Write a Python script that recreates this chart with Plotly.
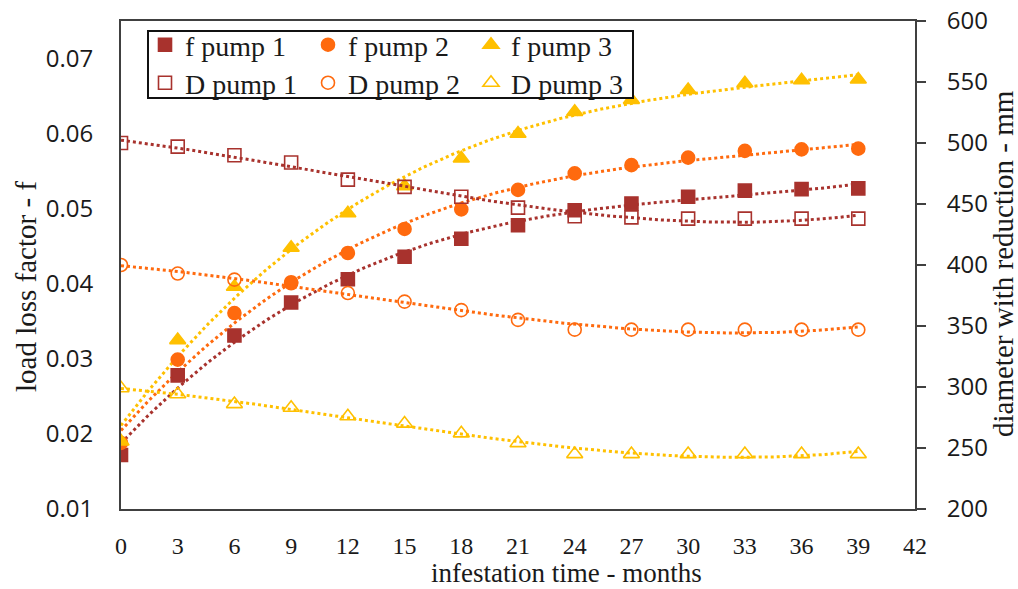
import numpy as np
import plotly.graph_objects as go

# infestation time (months)
months = [0, 3, 6, 9, 12, 15, 18, 21, 24, 27, 30, 33, 36, 39]

# load loss factor f (left axis)
f_pump1 = [0.0172, 0.0278, 0.0331, 0.0375, 0.0406, 0.0436, 0.0460, 0.0478,
           0.0498, 0.0507, 0.0516, 0.0524, 0.0526, 0.0527]
f_pump2 = [0.0188, 0.0299, 0.0361, 0.0402, 0.0441, 0.0473, 0.0499, 0.0525,
           0.0547, 0.0558, 0.0568, 0.0577, 0.0579, 0.0580]
f_pump3 = [0.0190, 0.0325, 0.0396, 0.0448, 0.0494, 0.0530, 0.0567, 0.0600,
           0.0629, 0.0645, 0.0658, 0.0667, 0.0671, 0.0672]

# diameter with reduction, mm (right axis)
d_pump1 = [500, 497, 490, 484, 470, 464, 456, 447, 440, 439, 438, 438, 438, 438]
d_pump2 = [400, 393, 388, 385, 377, 370, 363, 355, 347, 347, 347, 347, 347, 347]
d_pump3 = [299, 294, 286, 283, 276, 270, 262, 254, 245, 245, 245, 245, 245, 245]

RED = "#A8322D"
ORANGE = "#FF6A0E"
GOLD = "#FFC000"

W, H = 1018, 589
L, R, T, B = 121, 103, 21, 80
PW, PH = W - L - R, H - T - B

def px(xp):
    return (xp - L) / PW

def py(yp):
    return (H - B - yp) / PH

series = [
    ("f pump 1", f_pump1, "y", "square", RED, "legend"),
    ("f pump 2", f_pump2, "y", "circle", ORANGE, "legend"),
    ("f pump 3", f_pump3, "y", "triangle-up", GOLD, "legend"),
    ("D pump 1", d_pump1, "y2", "square-open", RED, "legend2"),
    ("D pump 2", d_pump2, "y2", "circle-open", ORANGE, "legend2"),
    ("D pump 3", d_pump3, "y2", "triangle-up-open", GOLD, "legend2"),
]

fig = go.Figure()

# polynomial trend lines (dotted)
xs = np.linspace(months[0], months[-1], 200)
for name, vals, yax, sym, col, lg in series:
    coef = np.polyfit(months, vals, 3)
    fig.add_trace(go.Scatter(
        x=xs, y=np.polyval(coef, xs), yaxis=yax, mode="lines",
        line=dict(color=col, width=3, dash="dot"),
        showlegend=False, hoverinfo="skip"))

# measured points
for name, vals, yax, sym, col, lg in series:
    fig.add_trace(go.Scatter(
        x=months, y=vals, yaxis=yax, mode="markers", name=name, legend=lg,
        marker=dict(symbol=sym, size=13 if "triangle" not in sym else 14,
                    color=col, line=dict(color=col, width=1.6))))

serif = "Liberation Serif"
sans = "Open Sans"
axis_col = "#404040"
txt_col = "#1a1a1a"

legend_common = dict(
    orientation="h", xanchor="left", yanchor="middle",
    entrywidth=118, entrywidthmode="pixels",
    bgcolor="rgba(0,0,0,0)", borderwidth=0,
    font=dict(family=serif, size=28, color=txt_col),
    itemclick=False, itemdoubleclick=False,
)

fig.update_layout(
    width=W, height=H,
    margin=dict(l=L, r=R, t=T, b=B, autoexpand=False),
    paper_bgcolor="white", plot_bgcolor="white",
    showlegend=True,
    legend=dict(x=px(145), y=py(45), **legend_common),
    legend2=dict(x=px(145), y=py(83), **legend_common),
    xaxis=dict(
        range=[0, 42], tick0=0, dtick=3, showgrid=False, zeroline=False,
        showline=True, linecolor=axis_col, linewidth=2, mirror=True,
        ticks="", ticklabelstandoff=14, automargin=False,
        tickfont=dict(family=serif, size=24, color=txt_col)),
    yaxis=dict(
        range=[0.01, 0.075], tick0=0.01, dtick=0.01, tickformat=".2f",
        showgrid=False, zeroline=False,
        showline=True, linecolor=axis_col, linewidth=2,
        ticks="", ticklabelstandoff=21, automargin=False,
        tickfont=dict(family=sans, size=24, color=txt_col)),
    yaxis2=dict(
        range=[200, 600], tick0=200, dtick=50, overlaying="y", side="right",
        showgrid=False, zeroline=False,
        showline=True, linecolor=axis_col, linewidth=2,
        ticks="outside", ticklen=9, tickwidth=2, tickcolor=axis_col,
        ticklabelstandoff=16, automargin=False,
        tickfont=dict(family=sans, size=24, color=txt_col)),
    shapes=[dict(type="rect", xref="paper", yref="paper",
                 x0=px(148), x1=px(633), y0=py(98), y1=py(31),
                 line=dict(color="#111111", width=2),
                 fillcolor="white", layer="above")],
    annotations=[
        dict(text="infestation time - months", xref="paper", yref="paper",
             x=px(566), y=py(573), xanchor="center", yanchor="middle",
             showarrow=False,
             font=dict(family=serif, size=27, color=txt_col)),
        dict(text="load loss factor - f", xref="paper", yref="paper",
             x=px(26), y=py(287), xanchor="center", yanchor="middle",
             showarrow=False, textangle=-90,
             font=dict(family=serif, size=29, color=txt_col)),
        dict(text="diameter with reduction - mm", xref="paper", yref="paper",
             x=px(1003), y=py(263), xanchor="center", yanchor="middle",
             showarrow=False, textangle=-90,
             font=dict(family=serif, size=29, color=txt_col)),
    ],
)

fig.write_html("out.html")
